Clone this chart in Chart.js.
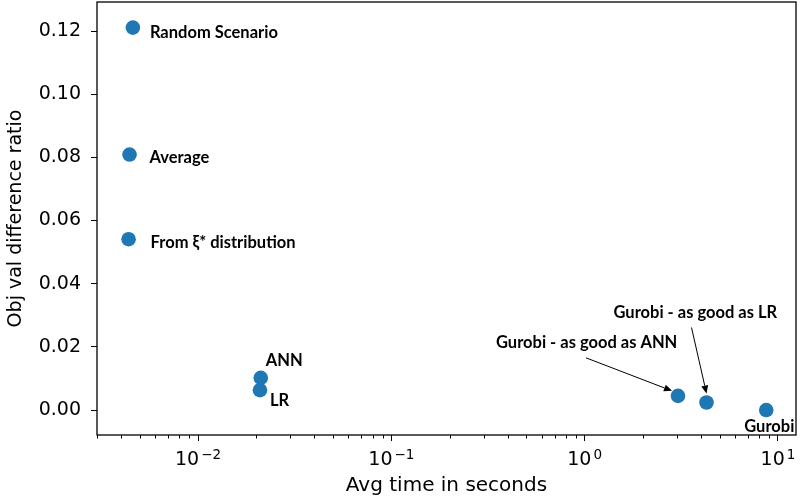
<!DOCTYPE html>
<html>
<head>
<meta charset="utf-8">
<script src="https://cdn.jsdelivr.net/npm/chart.js@4.4.1/dist/chart.umd.min.js"></script>
<style>
  html, body { margin: 0; padding: 0; background: #fff; }
  #wrap { width: 800px; height: 502px; }
</style>
</head>
<body>
<div id="wrap"><canvas id="chart"></canvas></div>
<script>
// methods shown in the plot
const methods = ["Random Scenario", "Average", "From ξ* distribution", "ANN", "LR",
                 "Gurobi - as good as ANN", "Gurobi - as good as LR", "Gurobi"];
// avg time in seconds (x, log scale)
const avgTime = [0.0046, 0.00442, 0.00437, 0.0211, 0.0209, 3.04, 4.27, 8.7];
// obj val difference ratio (y)
const objDiff = [0.1211, 0.0809, 0.0541, 0.0102, 0.0063, 0.0045, 0.0024, 0.0];

const xMajorTicks = [0.01, 0.1, 1, 10];
const xTickBase = "10";
const xTickExps = ["−2", "−1", "0", "1"];
const yTicks = [0, 0.02, 0.04, 0.06, 0.08, 0.10, 0.12];

// label placement relative to each point (pixels)
const labelOffsets = [
    { dx: 17, dy: 5 },
    { dx: 20, dy: 3 },
    { dx: 22, dy: 3 },
    { dx: 5, dy: -17 },
    { dx: 10, dy: 11 },
    { dx: -182, dy: -53, arrow: [-92, -38, -6, -5] },
    { dx: -93, dy: -90, arrow: [-15, -75, 0, -9] },
    { dx: -22, dy: 17 }
];

const blue = "#1f77b4";
const tickFont = { family: "DejaVu Sans", size: 19 };

// frame, minor ticks, log tick labels and point labels
const extras = {
    id: "extras",
    afterDraw(chart) {
        const ctx = chart.ctx;
        const a = chart.chartArea;
        const xs = chart.scales.x, ys = chart.scales.y;
        ctx.save();
        ctx.strokeStyle = "#000";
        ctx.lineWidth = 1.3;
        ctx.strokeRect(a.left, a.top, a.right - a.left, a.bottom - a.top);

        // minor ticks on the log axis
        ctx.lineWidth = 1;
        xs.ticks.forEach(t => {
            if (xMajorTicks.includes(t.value)) return;
            const px = Math.round(xs.getPixelForValue(t.value)) + 0.5;
            ctx.beginPath();
            ctx.moveTo(px, a.bottom);
            ctx.lineTo(px, a.bottom + 3.5);
            ctx.stroke();
        });

        // 10^n labels
        ctx.fillStyle = "#000";
        ctx.textBaseline = "alphabetic";
        ctx.textAlign = "left";
        xMajorTicks.forEach((v, i) => {
            const px = xs.getPixelForValue(v);
            ctx.font = "19px 'DejaVu Sans'";
            const w1 = ctx.measureText(xTickBase).width;
            ctx.font = "13.5px 'DejaVu Sans'";
            const w2 = ctx.measureText(xTickExps[i]).width;
            const x0 = px - (w1 + 2 + w2) / 2;
            ctx.font = "19px 'DejaVu Sans'";
            ctx.fillText(xTickBase, x0, a.bottom + 30);
            ctx.font = "13.5px 'DejaVu Sans'";
            ctx.fillText(xTickExps[i], x0 + w1 + 2, a.bottom + 24);
        });

        ctx.font = "bold 16.5px Lato";
        ctx.textBaseline = "middle";
        methods.forEach((name, i) => {
            const px = xs.getPixelForValue(avgTime[i]);
            const py = ys.getPixelForValue(objDiff[i]);
            const o = labelOffsets[i];
            ctx.fillText(name, px + o.dx, py + o.dy);
            if (o.arrow) {
                const x0 = px + o.arrow[0], y0 = py + o.arrow[1];
                const x1 = px + o.arrow[2], y1 = py + o.arrow[3];
                const ang = Math.atan2(y1 - y0, x1 - x0);
                const hl = 8, hw = 3.5;
                const bx = x1 - hl * Math.cos(ang), by = y1 - hl * Math.sin(ang);
                ctx.beginPath();
                ctx.moveTo(x0, y0);
                ctx.lineTo(bx, by);
                ctx.stroke();
                ctx.beginPath();
                ctx.moveTo(x1, y1);
                ctx.lineTo(bx + hw * Math.sin(ang), by - hw * Math.cos(ang));
                ctx.lineTo(bx - hw * Math.sin(ang), by + hw * Math.cos(ang));
                ctx.closePath();
                ctx.fill();
            }
        });
        ctx.restore();
    }
};

new Chart(document.getElementById("chart"), {
    type: "scatter",
    data: {
        datasets: [{
            data: avgTime.map((t, i) => ({ x: t, y: objDiff[i] })),
            backgroundColor: blue,
            borderColor: blue,
            borderWidth: 0,
            pointRadius: 7.3,
            pointHoverRadius: 7.3
        }]
    },
    options: {
        responsive: true,
        maintainAspectRatio: false,
        animation: false,
        layout: { autoPadding: false, padding: { left: 0, top: 2, right: 4, bottom: 0 } },
        plugins: { legend: { display: false }, tooltip: { enabled: false } },
        scales: {
            x: {
                type: "logarithmic",
                min: 0.003,
                max: 12.4,
                border: { display: false },
                grid: {
                    drawOnChartArea: false,
                    drawTicks: true,
                    tickLength: 6,
                    tickColor: c => (c.tick && xMajorTicks.includes(c.tick.value)) ? "#000" : "rgba(0,0,0,0)"
                },
                afterBuildTicks(scale) {
                    const list = [];
                    for (let e = -3; e <= 1; e++) {
                        for (let m = 1; m <= 9; m++) {
                            const v = parseFloat((m * Math.pow(10, e)).toPrecision(6));
                            if (v >= scale.min && v <= scale.max) list.push({ value: v });
                        }
                    }
                    scale.ticks = list;
                },
                afterFit(scale) {
                    scale.height = 67;
                    scale.paddingLeft = 0;
                    scale.paddingRight = 0;
                },
                ticks: {
                    autoSkip: false,
                    maxRotation: 0,
                    padding: 8,
                    color: "#000",
                    font: tickFont,
                    callback: () => ""
                },
                title: {
                    display: true,
                    text: "Avg time in seconds",
                    color: "#000",
                    font: { family: "DejaVu Sans", size: 20 },
                    padding: { top: 0, bottom: 4 }
                }
            },
            y: {
                min: -0.0079,
                max: 0.1292,
                border: { display: false },
                grid: { drawOnChartArea: false, drawTicks: true, tickLength: 6, tickColor: "#000" },
                afterBuildTicks(scale) {
                    scale.ticks = yTicks.map(v => ({ value: v }));
                },
                afterFit(scale) {
                    scale.width = 97;
                    scale.paddingTop = 0;
                    scale.paddingBottom = 0;
                },
                ticks: {
                    padding: 10,
                    color: "#000",
                    font: tickFont,
                    callback: v => v.toFixed(2)
                },
                title: {
                    display: true,
                    text: "Obj val difference ratio",
                    color: "#000",
                    font: tickFont,
                    padding: { top: 5, bottom: 0 }
                }
            }
        }
    },
    plugins: [extras]
});
</script>
</body>
</html>
